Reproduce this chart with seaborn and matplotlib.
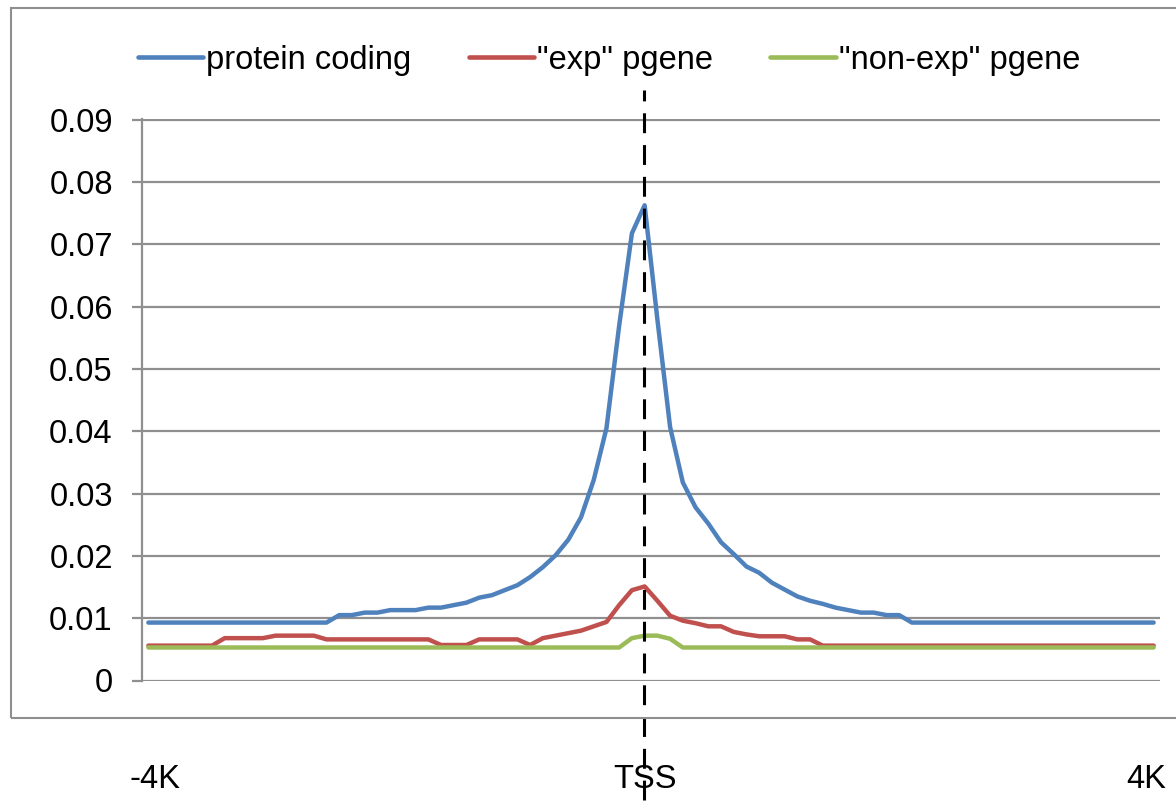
import matplotlib
matplotlib.use('Agg')
import matplotlib.pyplot as plt
import seaborn as sns
import pandas as pd
from matplotlib.patches import Rectangle
from matplotlib.lines import Line2D

# ---------------- data ----------------
series_names = ['protein coding', '"exp" pgene', '"non-exp" pgene']
series_colors = ['#4F81BD', '#C0504D', '#9BBB59']

bins = list(range(80))

protein_coding = [
    0.0093, 0.0093, 0.0093, 0.0093, 0.0093, 0.0093, 0.0093, 0.0093, 0.0093, 0.0093,
    0.0093, 0.0093, 0.0093, 0.0093, 0.0093, 0.0105, 0.0105, 0.0109, 0.0109, 0.0113,
    0.0113, 0.0113, 0.0117, 0.0117, 0.0121, 0.0125, 0.0133, 0.0137, 0.0145, 0.0153,
    0.0166, 0.0182, 0.0201, 0.0226, 0.0262, 0.0322, 0.0405, 0.0570, 0.0718, 0.0763,
    0.0580, 0.0407, 0.0318, 0.0278, 0.0252, 0.0222, 0.0203, 0.0183, 0.0173, 0.0157,
    0.0146, 0.0135, 0.0128, 0.0123, 0.0117, 0.0113, 0.0109, 0.0109, 0.0105, 0.0105,
    0.0093, 0.0093, 0.0093, 0.0093, 0.0093, 0.0093, 0.0093, 0.0093, 0.0093, 0.0093,
    0.0093, 0.0093, 0.0093, 0.0093, 0.0093, 0.0093, 0.0093, 0.0093, 0.0093, 0.0093,
]

exp_pgene = [
    0.0056, 0.0056, 0.0056, 0.0056, 0.0056, 0.0056, 0.0068, 0.0068, 0.0068, 0.0068,
    0.0072, 0.0072, 0.0072, 0.0072, 0.0066, 0.0066, 0.0066, 0.0066, 0.0066, 0.0066,
    0.0066, 0.0066, 0.0066, 0.0057, 0.0057, 0.0057, 0.0066, 0.0066, 0.0066, 0.0066,
    0.0057, 0.0068, 0.0072, 0.0076, 0.0080, 0.0087, 0.0094, 0.0121, 0.0145, 0.0151,
    0.0128, 0.0104, 0.0096, 0.0092, 0.0087, 0.0087, 0.0078, 0.0074, 0.0071, 0.0071,
    0.0071, 0.0066, 0.0066, 0.0056, 0.0056, 0.0056, 0.0056, 0.0056, 0.0056, 0.0056,
    0.0056, 0.0056, 0.0056, 0.0056, 0.0056, 0.0056, 0.0056, 0.0056, 0.0056, 0.0056,
    0.0056, 0.0056, 0.0056, 0.0056, 0.0056, 0.0056, 0.0056, 0.0056, 0.0056, 0.0056,
]

nonexp_pgene = [
    0.0053, 0.0053, 0.0053, 0.0053, 0.0053, 0.0053, 0.0053, 0.0053, 0.0053, 0.0053,
    0.0053, 0.0053, 0.0053, 0.0053, 0.0053, 0.0053, 0.0053, 0.0053, 0.0053, 0.0053,
    0.0053, 0.0053, 0.0053, 0.0053, 0.0053, 0.0053, 0.0053, 0.0053, 0.0053, 0.0053,
    0.0053, 0.0053, 0.0053, 0.0053, 0.0053, 0.0053, 0.0053, 0.0053, 0.0068, 0.0072,
    0.0072, 0.0067, 0.0053, 0.0053, 0.0053, 0.0053, 0.0053, 0.0053, 0.0053, 0.0053,
    0.0053, 0.0053, 0.0053, 0.0053, 0.0053, 0.0053, 0.0053, 0.0053, 0.0053, 0.0053,
    0.0053, 0.0053, 0.0053, 0.0053, 0.0053, 0.0053, 0.0053, 0.0053, 0.0053, 0.0053,
    0.0053, 0.0053, 0.0053, 0.0053, 0.0053, 0.0053, 0.0053, 0.0053, 0.0053, 0.0053,
]

y_ticks = [0, 0.01, 0.02, 0.03, 0.04, 0.05, 0.06, 0.07, 0.08, 0.09]
y_tick_labels = ['0', '0.01', '0.02', '0.03', '0.04', '0.05', '0.06', '0.07', '0.08', '0.09']
x_tick_pos = [0.5, 39.0, 78.4]
x_tick_labels = ['-4K', 'TSS', '4K']
tss_pos = 38.95

# ---------------- style ----------------
sns.set_theme(style='white')
plt.rcParams['font.family'] = ['Liberation Sans', 'DejaVu Sans']
plt.rcParams['text.color'] = 'black'

W, H = 1176, 802
fig = plt.figure(figsize=(W / 100, H / 100), dpi=100)
ax_left, ax_right, ax_top, ax_bottom = 142, 1160, 119.3, 680.5
ax = fig.add_axes([ax_left / W, 1 - ax_bottom / H,
                   (ax_right - ax_left) / W, (ax_bottom - ax_top) / H])

df = pd.concat([
    pd.DataFrame({'bin': bins, 'value': vals, 'series': name})
    for name, vals in zip(series_names, [protein_coding, exp_pgene, nonexp_pgene])
])
palette = dict(zip(series_names, series_colors))
sns.lineplot(data=df, x='bin', y='value', hue='series', palette=palette,
             linewidth=3.2, ax=ax, legend=False, solid_joinstyle='round',
             solid_capstyle='round', zorder=3)

ax.set_xlim(-0.5, 79.5)
ax.set_ylim(0, 0.0901)
ax.set_yticks(y_ticks, y_tick_labels)
ax.set_xticks(x_tick_pos, x_tick_labels)
ax.set_xlabel('')
ax.set_ylabel('')

grid_c = '#8f8f8f'
ax.yaxis.grid(True, color=grid_c, linewidth=1.6)
ax.xaxis.grid(False)
ax.set_axisbelow(True)
for s in ['top', 'right', 'bottom']:
    ax.spines[s].set_visible(False)
ax.spines['left'].set_color(grid_c)
ax.spines['left'].set_linewidth(1.6)

ax.tick_params(axis='y', left=True, direction='out', length=7, width=1.6,
               color=grid_c, pad=14, labelsize=23.5, labelcolor='black')
ax.tick_params(axis='x', bottom=True, length=0, pad=60, labelsize=23.5,
               labelcolor='black')

# TSS dashed line
h = ax_bottom - ax_top
ax.axvline(tss_pos, ymin=(ax_bottom - 800) / h, ymax=(ax_bottom - 90) / h,
           color='black', lw=2.2, dashes=(6.5, 3.9), clip_on=False, zorder=6)

# chart-area frame
fig.patches.append(Rectangle((11 / W, 1 - 718 / H), (1200 - 11) / W, (718 - 8) / H,
                             transform=fig.transFigure, fill=False,
                             edgecolor='#8f8f8f', lw=1.5))

# legend
handles = [Line2D([], [], color=c, lw=3.3, solid_capstyle='round') for c in series_colors]
fig.legend(handles, series_names, loc='center', bbox_to_anchor=(609 / W, 1 - 60 / H),
           ncol=3, frameon=False, handlelength=2.0, handletextpad=0.1,
           columnspacing=1.75, fontsize=23.5, labelcolor='black')

fig.savefig('out.png', dpi=100)
